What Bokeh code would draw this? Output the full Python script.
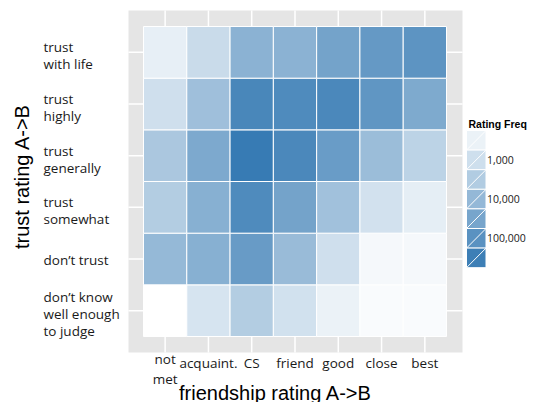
from bokeh.plotting import figure
from bokeh.models import ColumnDataSource, LogColorMapper, Range1d
from bokeh.core.properties import value
from bokeh.embed import file_html
from bokeh.resources import INLINE
import math

# ---------------- data ----------------
friendship = ["not\nmet", "acquaint.", "CS", "friend", "good", "close", "best"]
trust = ["dont_know", "dont_trust", "somewhat", "generally", "highly", "with_life"]  # bottom -> top
trust_labels = ["don\u2019t know\nwell enough\nto judge", "don\u2019t trust", "trust\nsomewhat",
                "trust\ngenerally", "trust\nhighly", "trust\nwith life"]

freq_with_life = [372, 1260, 14500, 14500, 35600, 63000, 87000]
freq_highly = [955, 6460, 195000, 155000, 182000, 79400, 23500]
freq_generally = [3980, 25700, 407000, 182000, 53700, 7590, 2040]
freq_somewhat = [2880, 17000, 155000, 35600, 5890, 851, 407]
freq_dont_trust = [9770, 17000, 57500, 8250, 955, 214, 219]
freq_dont_know = [141, 724, 2880, 871, 316, 182, 186]

rows = {"dont_know": freq_dont_know, "dont_trust": freq_dont_trust, "somewhat": freq_somewhat,
        "generally": freq_generally, "highly": freq_highly, "with_life": freq_with_life}

legend_breaks = [316, 1000, 3162, 10000, 31623, 100000, 316228]
legend_labels = ["", "1,000", "", "10,000", "", "100,000", ""]

x_title = "friendship rating A->B"
y_title = "trust rating A->B"
legend_title = "Rating Freq"

# ---------------- colour scale ----------------
lo_rgb = (255, 255, 255)
hi_rgb = (51, 120, 178)
palette = []
for i in range(256):
    t = i / 255
    c = [round(lo_rgb[k] + (hi_rgb[k] - lo_rgb[k]) * t) for k in range(3)]
    palette.append("#%02x%02x%02x" % tuple(c))
mapper = LogColorMapper(palette=palette, low=141, high=478000)

# ---------------- geometry (pixel layout -> data units) ----------------
W, H = 532, 402
PPX = (446 - 143) / len(friendship)   # px per category column
PPY = (336 - 26) / len(trust)         # px per category row
X0 = 0.5 - 143 / PPX                  # data x at canvas left edge
YT = len(trust) + 0.5 + 26 / PPY      # data y at canvas top edge


def X(px):
    return X0 + px / PPX


def Y(py):
    return YT - py / PPY


fx = list(range(1, len(friendship) + 1))
ty = list(range(1, len(trust) + 1))

xs, ys, vs = [], [], []
for j, tr in enumerate(trust):
    for i, fr in enumerate(friendship):
        xs.append(fx[i])
        ys.append(ty[j])
        vs.append(rows[tr][i])
src = ColumnDataSource(dict(x=xs, y=ys, v=vs))

p = figure(width=W, height=H, output_backend="svg", toolbar_location=None,
           x_range=Range1d(X(0), X(W)), y_range=Range1d(Y(H), Y(0)),
           min_border=0, x_axis_location=None, y_axis_location=None)
p.grid.visible = False
p.outline_line_color = None
p.background_fill_color = "white"
p.border_fill_color = "white"

# panel background
p.quad(left=[X(128)], right=[X(462)], top=[Y(10)], bottom=[Y(352)],
       fill_color="#e5e5e5", line_color=None)
# grid lines at category centres
p.segment(x0=fx, x1=fx, y0=[Y(352)] * len(fx), y1=[Y(10)] * len(fx),
          line_color="white", line_width=1.5)
p.segment(x0=[X(128)] * len(ty), x1=[X(462)] * len(ty), y0=ty, y1=ty,
          line_color="white", line_width=1.5)

# tiles
p.rect(x="x", y="y", width=1, height=1, source=src,
       fill_color={"field": "v", "transform": mapper}, line_color="white", line_width=1)

# x tick labels (multi-line labels sit a little lower, as in the original)
x_lab_y = [Y(368.5) if "\n" in t else Y(362.5) for t in friendship]
p.text(x=fx, y=x_lab_y, text=friendship, text_align="center", text_baseline="middle",
       text_font=value("Open Sans"), text_font_size=value("13.5px"), text_line_height=1.11,
       text_color="#1a1a1a")
# y tick labels
y_lab_y = [ty[k] - (3.5 if "\n" in t else 1.0) / PPY for k, t in enumerate(trust_labels)]
p.text(x=[X(43)] * len(ty), y=y_lab_y, text=trust_labels, text_align="left", text_baseline="middle",
       text_font=value("Open Sans"), text_font_size=value("13.5px"), text_line_height=0.96,
       text_color="#1a1a1a")
# axis titles
p.text(x=[X(275)], y=[Y(392)], text=[x_title], text_align="center", text_baseline="alphabetic",
       text_font=value("Liberation Sans"), text_font_size=value("20px"), text_color="#000000")
p.text(x=[X(21)], y=[Y(176)], text=[y_title], angle=math.pi / 2, text_align="center",
       text_baseline="middle", text_font=value("Liberation Sans"), text_font_size=value("20px"),
       text_color="#000000")

# ---------------- legend ----------------
KEY_W, KEY_H, KEY_X, KEY_Y = 19.5, 19.6, 466, 130
idx = list(range(len(legend_breaks)))
kc = [KEY_Y + KEY_H * (k + 0.5) for k in idx]
lsrc = ColumnDataSource(dict(v=legend_breaks,
                             x=[X(KEY_X + KEY_W / 2)] * len(idx), y=[Y(c) for c in kc],
                             x0=[X(KEY_X)] * len(idx), x1=[X(KEY_X + KEY_W)] * len(idx),
                             y0=[Y(c + KEY_H / 2) for c in kc], y1=[Y(c - KEY_H / 2) for c in kc]))
p.rect(x="x", y="y", width=KEY_W / PPX, height=KEY_H / PPY, source=lsrc,
       fill_color={"field": "v", "transform": mapper}, line_color="white", line_width=1)
p.segment(x0="x0", y0="y0", x1="x1", y1="y1", source=lsrc, line_color="white", line_width=1)
lab_i = [k for k in idx if legend_labels[k]]
p.text(x=[X(KEY_X + KEY_W + 1)] * len(lab_i), y=[Y(kc[k]) for k in lab_i],
       text=[legend_labels[k] for k in lab_i], text_align="left", text_baseline="middle",
       text_font=value("Open Sans"), text_font_size=value("10.5px"), text_color="#1a1a1a")
p.text(x=[X(468)], y=[Y(123)], text=[legend_title], text_align="left", text_baseline="middle",
       text_font=value("Liberation Sans"), text_font_style="bold",
       text_font_size=value("10.5px"), text_color="#000000")

open("out.html", "w").write(file_html(p, INLINE))
